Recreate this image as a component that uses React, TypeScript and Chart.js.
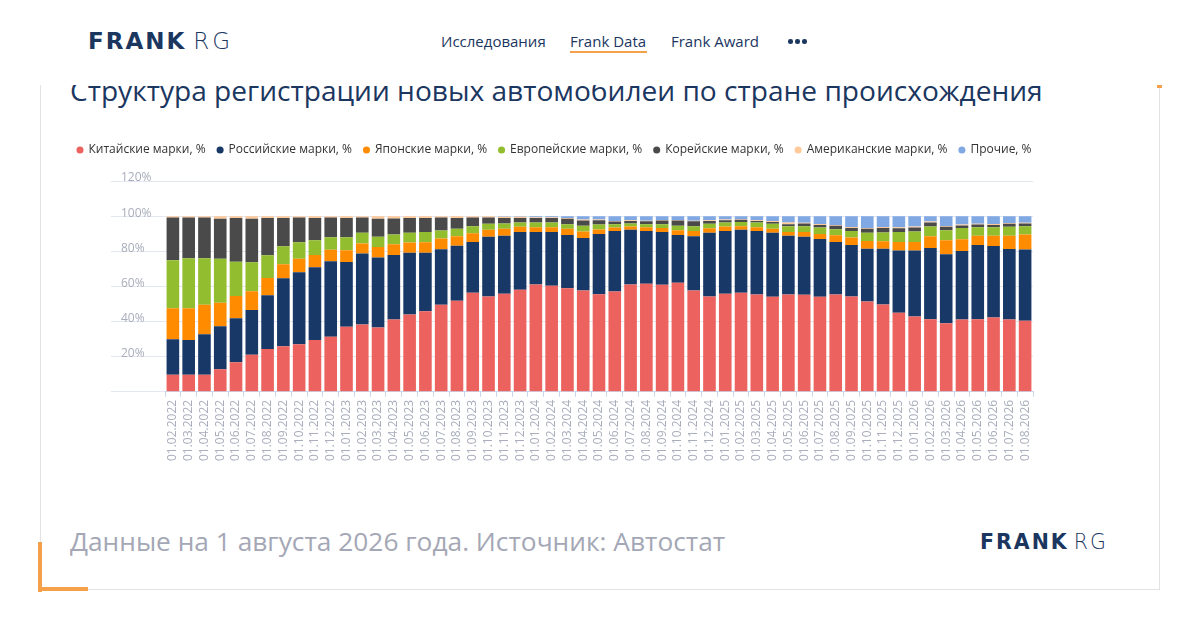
import React, { useEffect, useRef } from "react";
import { Chart, registerables } from "chart.js";

Chart.register(...registerables);

const categories = [
  "01.02.2022", "01.03.2022", "01.04.2022", "01.05.2022", "01.06.2022", "01.07.2022",
  "01.08.2022", "01.09.2022", "01.10.2022", "01.11.2022", "01.12.2022", "01.01.2023",
  "01.02.2023", "01.03.2023", "01.04.2023", "01.05.2023", "01.06.2023", "01.07.2023",
  "01.08.2023", "01.09.2023", "01.10.2023", "01.11.2023", "01.12.2023", "01.01.2024",
  "01.02.2024", "01.03.2024", "01.04.2024", "01.05.2024", "01.06.2024", "01.07.2024",
  "01.08.2024", "01.09.2024", "01.10.2024", "01.11.2024", "01.12.2024", "01.01.2025",
  "01.02.2025", "01.03.2025", "01.04.2025", "01.05.2025", "01.06.2025", "01.07.2025",
  "01.08.2025", "01.09.2025", "01.10.2025", "01.11.2025", "01.12.2025", "01.01.2026",
  "01.02.2026", "01.03.2026", "01.04.2026", "01.05.2026", "01.06.2026", "01.07.2026",
  "01.08.2026",
];

const chinese = [
  9.7, 9.7, 9.7, 12.8, 16.8, 21.1, 24.4, 25.9, 27.0, 29.5, 31.4, 37.1, 38.3, 36.6, 41.1,
  44.0, 45.9, 49.5, 51.8, 56.4, 54.3, 55.8, 58.1, 61.1, 60.4, 59.0, 57.7, 55.6, 57.1, 61.1,
  61.5, 61.0, 62.1, 57.7, 54.3, 55.8, 56.4, 55.4, 54.1, 55.4, 55.2, 54.1, 55.4, 54.3, 51.4,
  49.7, 45.0, 42.9, 41.3, 39.0, 41.1, 41.3, 42.3, 41.1, 40.4,
];
const russian = [
  20.2, 19.8, 23.1, 24.5, 25.1, 25.4, 30.6, 38.7, 41.0, 41.4, 42.9, 36.8, 40.4, 39.8, 36.8,
  35.2, 33.3, 31.6, 31.4, 28.9, 33.9, 33.0, 32.9, 29.8, 30.6, 30.3, 29.9, 34.3, 34.5, 31.1,
  30.1, 30.0, 27.2, 30.9, 36.2, 35.8, 35.8, 36.2, 36.4, 33.4, 33.0, 32.9, 29.9, 29.3, 30.1,
  31.8, 35.4, 37.5, 40.6, 39.3, 39.1, 42.3, 40.7, 40.2, 40.6,
];
const japanese = [
  17.7, 18.1, 16.7, 13.4, 12.6, 10.8, 9.8, 8.0, 7.8, 7.0, 6.5, 6.7, 5.7, 6.1, 6.1,
  5.8, 5.9, 6.1, 5.4, 5.0, 4.0, 4.0, 2.9, 2.8, 2.7, 3.5, 3.6, 2.5, 1.9, 1.9,
  2.1, 2.3, 2.7, 3.0, 2.6, 2.5, 2.1, 2.1, 2.3, 2.2, 2.7, 2.9, 3.8, 4.2, 4.4,
  4.2, 4.9, 4.9, 6.7, 8.0, 6.7, 5.2, 5.9, 7.6, 8.5,
];
const european = [
  27.3, 28.4, 26.5, 25.1, 19.6, 16.4, 12.9, 10.3, 9.3, 8.4, 7.2, 7.4, 6.1, 5.7, 5.5,
  5.5, 5.8, 4.6, 4.2, 4.0, 3.4, 3.0, 2.5, 2.7, 2.7, 2.6, 3.3, 2.8, 1.9, 1.7,
  1.7, 2.1, 2.5, 2.7, 2.5, 2.3, 2.3, 2.7, 2.8, 3.3, 3.4, 3.6, 3.5, 3.8, 4.6,
  5.0, 5.7, 5.9, 5.5, 5.7, 6.4, 4.9, 4.8, 5.0, 4.8,
];
const korean = [
  24.3, 23.2, 23.2, 22.7, 24.8, 24.8, 21.2, 16.1, 14.1, 12.7, 11.2, 11.0, 8.7, 10.3, 9.2,
  8.4, 8.0, 7.4, 6.1, 4.9, 3.6, 3.2, 2.6, 2.6, 2.6, 3.1, 3.0, 2.5, 1.6, 1.5,
  1.7, 2.1, 3.0, 2.8, 1.7, 1.3, 1.3, 0.9, 1.0, 1.1, 1.5, 1.5, 1.9, 1.7, 2.3,
  2.6, 2.1, 2.3, 2.3, 1.9, 1.4, 1.5, 1.3, 1.7, 1.5,
];
const american = [
  0.8, 0.8, 0.8, 1.5, 1.1, 1.5, 1.1, 1.0, 0.8, 1.0, 0.8, 1.0, 0.8, 1.5, 1.3,
  1.1, 1.1, 0.8, 1.1, 0.8, 0.8, 0.6, 0.7, 0.4, 0.4, 0.5, 0.6, 0.4, 0.3, 0.4,
  0.3, 0.3, 0.3, 0.3, 0.3, 0.4, 0.3, 0.4, 0.6, 1.0, 0.5, 0.5, 0.5, 0.5, 0.4,
  0.5, 0.6, 0.6, 0.6, 0.5, 0.5, 0.5, 0.5, 0.5, 0.5,
];
const others = [
  0, 0, 0, 0, 0, 0, 0, 0, 0, 0, 0, 0, 0, 0, 0,
  0, 0, 0, 0, 0, 0, 0.4, 0.3, 0.6, 0.6, 1.0, 1.9, 1.9, 2.7, 2.3,
  2.6, 2.2, 2.2, 2.6, 2.4, 1.9, 1.8, 2.3, 2.8, 3.6, 3.7, 4.5, 5.0, 6.2, 6.8,
  6.2, 6.3, 5.9, 3.0, 5.6, 4.8, 4.3, 4.5, 3.9, 3.7,
];

const seriesNames = [
  "Китайские марки, %",
  "Российские марки, %",
  "Японские марки, %",
  "Европейские марки, %",
  "Корейские марки, %",
  "Американские марки, %",
  "Прочие, %",
];
const seriesColors = ["#EC625E", "#183867", "#FF8C00", "#92BD2E", "#4A4A4A", "#FFC999", "#80A8E3"];
const yTicks = [0, 20, 40, 60, 80, 100, 120];

const FONT = "'Open Sans', 'Noto Sans', sans-serif";
const LOGO_FONT = "'DejaVu Sans', 'Open Sans', sans-serif";
const NAVY = "#1B365F";

function StackChart() {
  const ref = useRef<HTMLCanvasElement | null>(null);
  useEffect(() => {
    if (!ref.current) return;
    const all = [chinese, russian, japanese, european, korean, american, others];
    const chart = new Chart(ref.current, {
      type: "bar",
      data: {
        labels: categories,
        datasets: all.map((d, i) => ({
          label: seriesNames[i],
          data: d,
          backgroundColor: seriesColors[i],
          borderWidth: 0,
          barPercentage: 0.8,
          categoryPercentage: 1,
          yAxisID: "y",
        })),
      },
      options: {
        animation: false,
        responsive: false,
        devicePixelRatio: 1,
        layout: { padding: { left: 0, right: 0, top: 0, bottom: 16 } },
        plugins: {
          tooltip: { enabled: false },
          legend: {
            position: "top",
            weight: 3000,
            labels: {
              usePointStyle: true,
              pointStyle: "circle",
              boxWidth: 5,
              boxHeight: 5,
              padding: 12,
              color: "#333333",
              font: { family: FONT, size: 12 },
            },
          } as any,
          title: {
            display: true,
            text: "",
            position: "top",
            padding: 0,
            font: { size: 15, lineHeight: 1 },
          },
        },
        scales: {
          x: {
            stacked: true,
            grid: { display: true, drawOnChartArea: false, tickLength: 5, color: "#CCD6EB" },
            border: { display: true, color: "#CCD6EB" },
            ticks: {
              autoSkip: false,
              maxRotation: 90,
              minRotation: 90,
              padding: 3,
              color: "#A9ADBC",
              font: { family: FONT, size: 12 },
            },
          },
          y: {
            stacked: true,
            position: "left",
            min: 0,
            max: 120,
            afterBuildTicks: (scale: any) => {
              scale.ticks = yTicks.map((v) => ({ value: v }));
            },
            afterFit: (scale: any) => {
              scale.width = 115;
            },
            grid: { color: "#E3E7F1", tickLength: 54, drawTicks: true },
            border: { display: false },
            ticks: {
              mirror: true,
              padding: -44,
              labelOffset: -3,
              color: "#A9ADBC",
              font: { family: FONT, size: 12 },
              callback: (v: any) => (Number(v) === 0 ? "" : v + "%"),
            },
          },
          yRight: {
            type: "linear",
            position: "right",
            display: true,
            min: 0,
            max: 120,
            afterFit: (scale: any) => {
              scale.width = 26;
            },
            grid: { display: false, drawTicks: false },
            border: { display: false },
            ticks: { display: false },
          },
        },
      } as any,
    });
    return () => chart.destroy();
  }, []);
  return <canvas ref={ref} width={1009} height={348} style={{ width: 1009, height: 348, display: "block" }} />;
}

export default function App() {
  const abs = (s: React.CSSProperties): React.CSSProperties => ({ position: "absolute", ...s });
  const dot = (x: number): React.CSSProperties =>
    abs({ left: x, top: 39, width: 4.5, height: 4.5, borderRadius: "50%", background: NAVY });
  return (
    <div style={abs({ left: 0, top: 0, width: 1200, height: 630, background: "#fff", overflow: "hidden", fontFamily: FONT })}>
      {/* title (partially hidden under header) */}
      <div style={abs({ left: 70, top: 70, fontSize: 28.1, color: NAVY, whiteSpace: "nowrap", lineHeight: "40px" })}>
        Структура регистрации новых автомобилей по стране происхождения
      </div>
      {/* header */}
      <div style={abs({ left: 0, top: 0, width: 1200, height: 85, background: "#fff", zIndex: 2 })}>
        <div style={abs({ left: 88, top: 25, fontFamily: LOGO_FONT, fontSize: 23, lineHeight: "32px", color: NAVY, whiteSpace: "nowrap" })}>
          <span style={{ fontWeight: 700, letterSpacing: 2 }}>FRANK</span>
          <span style={{ fontWeight: 200, marginLeft: 7, letterSpacing: 3 }}>RG</span>
        </div>
        <div style={abs({ left: 441, top: 31, fontSize: 15, lineHeight: "20px", color: NAVY, whiteSpace: "nowrap" })}>Исследования</div>
        <div style={abs({ left: 570, top: 31, fontSize: 15, lineHeight: "20px", color: NAVY, whiteSpace: "nowrap" })}>Frank Data</div>
        <div style={abs({ left: 570, top: 51, width: 77, height: 2, background: "#F5A04A" })} />
        <div style={abs({ left: 671, top: 31, fontSize: 15, lineHeight: "20px", color: NAVY, whiteSpace: "nowrap" })}>Frank Award</div>
        <div style={dot(788)} />
        <div style={dot(795)} />
        <div style={dot(802)} />
      </div>
      {/* card frame */}
      <div style={abs({ left: 40, top: 85, width: 1, height: 505, background: "#E2E2E2" })} />
      <div style={abs({ left: 1159, top: 85, width: 1, height: 505, background: "#E2E2E2" })} />
      <div style={abs({ left: 40, top: 589, width: 1120, height: 1, background: "#E2E2E2" })} />
      <div style={abs({ left: 1157, top: 84, width: 5, height: 4, background: "#F5A04A" })} />
      <div style={abs({ left: 38, top: 542, width: 4, height: 50, background: "#F5A04A" })} />
      <div style={abs({ left: 38, top: 587, width: 50, height: 4, background: "#F5A04A" })} />
      {/* chart */}
      <div style={abs({ left: 50, top: 132, width: 1009, height: 348 })}>
        <StackChart />
      </div>
      {/* footer */}
      <div style={abs({ left: 70, top: 523, fontSize: 26.3, lineHeight: "36px", color: "#A4A7B5", whiteSpace: "nowrap" })}>
        Данные на 1 августа 2026 года. Источник: Автостат
      </div>
      <div style={abs({ left: 980, top: 529, fontFamily: LOGO_FONT, fontSize: 20.5, lineHeight: "26px", color: NAVY, whiteSpace: "nowrap" })}>
        <span style={{ fontWeight: 700, letterSpacing: 2 }}>FRANK</span>
        <span style={{ fontWeight: 200, marginLeft: 5, letterSpacing: 2 }}>RG</span>
      </div>
    </div>
  );
}
